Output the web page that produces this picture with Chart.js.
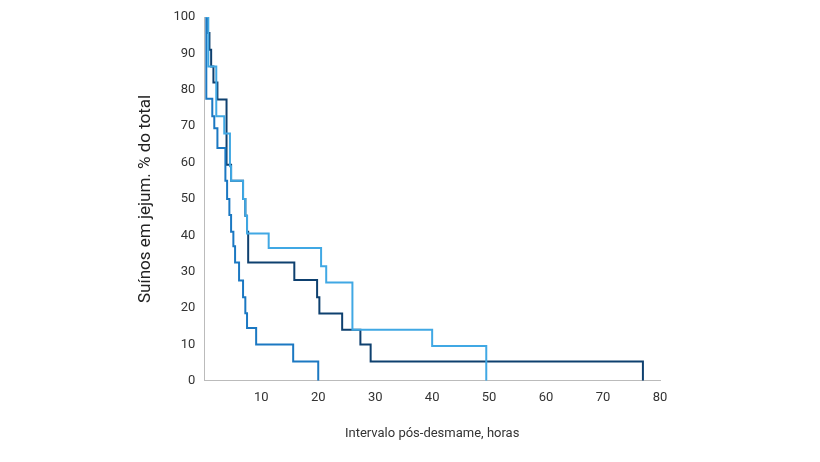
<!DOCTYPE html>
<html><head><meta charset="utf-8">
<script src="https://cdn.jsdelivr.net/npm/chart.js@4/dist/chart.umd.min.js"></script>
<style>html,body{margin:0;background:#fff}#wrap{width:820px;height:462px}</style>
</head><body><div id="wrap"><canvas id="c"></canvas></div>
<script>
// Curvas de sobrevivência (nível mantido a partir de cada x)
const darkX = [0.35, 0.6, 0.9, 1.2, 1.6, 2.3, 3.9, 4.7, 6.8, 7.2, 7.5, 7.7, 15.8, 19.8, 20.2, 24.2, 27.4, 29.2, 77];
const darkY = [100, 95.6, 91, 86.4, 82, 77.3, 59.4, 55, 50, 45.4, 41, 32.5, 27.7, 23, 18.5, 14, 10, 5.3, 0];
const midX = [0.2, 0.35, 1.4, 1.75, 2.3, 3.7, 4.0, 4.4, 4.7, 5.1, 5.4, 6.1, 6.8, 7.2, 7.5, 9.1, 15.6, 20];
const midY = [100, 77.5, 72.7, 69.4, 64, 55, 50, 45.6, 41, 37, 32.5, 27.6, 23, 18.6, 14.5, 10, 5.3, 0];
const lightX = [0.35, 0.7, 2.1, 3.5, 4.5, 4.7, 6.8, 7.2, 7.5, 11.3, 20.5, 21.4, 26.0, 40.0, 49.5];
const lightY = [100, 86.4, 72.7, 68, 59, 55, 50, 45.4, 40.5, 36.5, 31.5, 27, 14, 9.6, 0];

function pts(xs, ys) { return xs.map((x, i) => ({ x: x, y: ys[i] })); }
function ds(xs, ys, color) {
    return { data: pts(xs, ys), borderColor: color, borderWidth: 2, pointRadius: 0, stepped: 'before', fill: false };
}

new Chart(document.getElementById("c"), {
    type: "line",
    data: { datasets: [
        ds(lightX, lightY, "#40a8e4"),
        ds(midX, midY, "#1b78c2"),
        ds(darkX, darkY, "#0e406f")
    ] },
    options: {
        responsive: true, maintainAspectRatio: false, animation: false,
        layout: { padding: { left: 132, right: 160, top: 17, bottom: 16 } },
        plugins: { legend: { display: false }, tooltip: { enabled: false } },
        scales: {
            x: {
                type: "linear", min: 0, max: 80,
                grid: { display: false, drawTicks: true, tickLength: 6, color: "#bbb" },
                border: { color: "#bbb" },
                ticks: { stepSize: 10, color: "#333", font: { family: "Roboto", size: 13 },
                    callback: v => v === 0 ? "" : v },
                title: { display: true, text: "Intervalo pós-desmame, horas", color: "#333",
                    font: { family: "Roboto", size: 13 }, padding: { top: 18 } }
            },
            y: {
                min: 0, max: 100,
                grid: { display: false, tickLength: 6, color: "#bbb" },
                border: { color: "#bbb" },
                ticks: { stepSize: 10, color: "#333", font: { family: "Roboto", size: 13 } },
                title: { display: true, text: "Suínos em jejum. % do total", color: "#222",
                    font: { family: "Roboto", size: 17 }, padding: { bottom: 14 } }
            }
        }
    }
});
</script></body></html>
